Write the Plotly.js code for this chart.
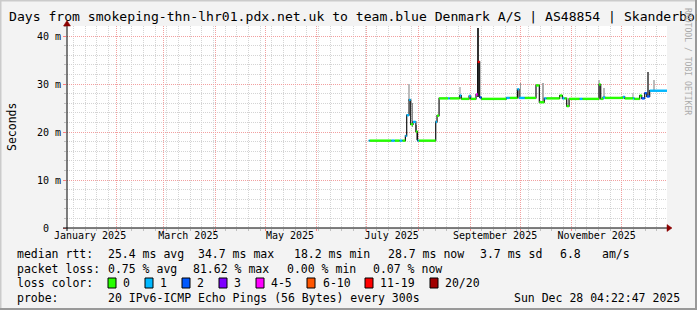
<!DOCTYPE html>
<html><head><meta charset="utf-8">
<script src="https://cdn.plot.ly/plotly-3.0.1.min.js"></script>
<style>html,body{margin:0;padding:0;background:#f3f3f3;}#chart{width:697px;height:310px;}</style>
</head><body><div id="chart"></div>
<script>
// ---------- data ----------
const startTime = '2025-01-02 04:22:47';
const endTime = '2025-12-28 04:22:47';

const medianTimes = [
'2025-07-02 05:00','2025-07-02 19:00','2025-07-15 19:00','2025-07-17 19:00','2025-07-20 19:00','2025-07-22 10:00',
'2025-07-24 05:00','2025-07-25 00:00','2025-07-26 10:00','2025-07-27 10:00','2025-07-28 19:00','2025-07-30 12:00',
'2025-07-31 12:00','2025-08-01 05:00','2025-08-11 10:00','2025-08-12 05:00','2025-08-13 10:00','2025-08-18 19:00',
'2025-08-19 19:00','2025-08-25 19:00','2025-08-26 19:00','2025-08-31 10:00','2025-09-01 10:00','2025-09-04 14:00',
'2025-09-05 14:00','2025-09-06 19:00','2025-09-07 19:00','2025-09-22 19:00','2025-09-24 19:00','2025-09-29 10:00',
'2025-09-30 10:00','2025-10-03 19:00','2025-10-10 14:00','2025-10-12 14:00','2025-10-15 14:00','2025-10-16 19:00',
'2025-10-24 19:00','2025-10-26 10:00','2025-10-27 14:00','2025-10-29 00:00','2025-10-30 10:00','2025-11-05 19:00',
'2025-11-07 10:00','2025-11-17 10:00','2025-11-18 10:00','2025-11-19 19:00','2025-11-21 00:00','2025-12-01 19:00',
'2025-12-02 19:00','2025-12-07 19:00','2025-12-08 14:00','2025-12-11 19:00','2025-12-13 00:00','2025-12-14 19:00',
'2025-12-16 00:00','2025-12-17 19:00'
];
const medianValues = [
18.2,18.2,18.2,18.2,18.2,18.2,
19.2,23.5,26.7,21.6,22.1,20.1,
18.2,18.2,22.1,23.4,27.0,27.0,
27.0,27.6,26.9,27.5,26.9,27.8,
34.6,27.2,26.9,27.1,27.1,28.9,
27.1,27.1,29.7,26.2,27.0,27.0,
27.6,27.0,27.0,25.4,26.9,26.9,
26.9,29.9,26.9,27.2,27.1,27.3,
27.0,27.0,26.9,27.6,27.0,28.1,
27.4,28.6
];
const lossBucket = [
1,0,1,0,1,0,
1,1,1,0,1,0,
1,0,1,0,0,1,
0,1,0,1,0,4,
6,2,0,1,0,1,
1,0,0,0,1,0,
0,1,0,0,0,1,
0,0,0,1,0,1,
0,1,0,0,2,2,
2,1
];

const smokeTimes = ['2025-07-26 12:00','2025-07-28 12:00','2025-07-30 20:00','2025-08-25 19:00','2025-09-05 14:00','2025-10-01 06:00','2025-10-15 00:00','2025-11-17 10:00','2025-11-20 12:00','2025-12-08 00:00','2025-12-16 20:00','2025-12-20 12:00'];
const smokeLow   = [26.5,21.1,18.3,27.0,27.2,27.1,26.3,27.0,27.2,27.0,27.4,28.6];
const smokeHigh  = [30.0,26.0,21.5,29.4,41.6,30.2,30.3,30.8,29.1,28.1,32.4,30.8];
const smokeShade = ['#bbbbbb','#8c8c8c','#8c8c8c','#c8c8c8','#333333','#999999','#aaaaaa','#bbbbbb','#bbbbbb','#c8c8c8','#666666','#bbbbbb'];

const lossLabels = ['0','1','2','3','4-5','6-10','11-19','20/20'];
const lossColors = ['#26ff00','#00b8ff','#0059ff','#7e00ff','#ff00ff','#ff5500','#ff0000','#a10000'];

const monthLabelTimes = ['2025-01-16','2025-03-16','2025-05-16','2025-07-16','2025-09-16','2025-11-16'];
const monthLabels = ['January 2025','March 2025','May 2025','July 2025','September 2025','November 2025'];
const yTickVals = [0,10,20,30,40];
const yTickText = ['0<span style="fill-opacity:0">mm</span>','10 m','20 m','30 m','40 m'];

const titleText = 'Days from smokeping-thn-lhr01.pdx.net.uk to team.blue Denmark A/S | AS48854 | Skanderborg';
const yTitle = 'Seconds';
const rttRow  = ['median rtt:','25.4 ms avg','34.7 ms max','18.2 ms min','28.7 ms now','3.7 ms sd','6.8','am/s'];
const lossRow = ['packet loss:','0.75 % avg','81.62 % max','0.00 % min','0.07 % now'];
const colorRowLabel = 'loss color:';
const probeRow = ['probe:','20 IPv6-ICMP Echo Pings (56 Bytes) every 300s','Sun Dec 28 04:22:47 2025'];
const creditText = 'RRDTOOL / TOBI OETIKER';

// ---------- layout geometry (pixels) ----------
const L=67, R=667, T=26, B=228;
const px = x => (x-L)/(R-L);
const py = y => (B-y)/(B-T);
const FONT = 'DejaVu Sans Mono, monospace';
const DAY = 86400000;

// ---------- traces ----------
const traces = [];
traces.push({
  type:'bar', x:smokeTimes, base:smokeLow,
  y:smokeHigh.map((h,i)=>h-smokeLow[i]),
  width:smokeTimes.map(()=>1.1*DAY),
  marker:{color:smokeShade, line:{width:0}}, hoverinfo:'skip'
});
traces.push({
  type:'scatter', mode:'lines',
  x:medianTimes.concat([endTime]),
  y:medianValues.concat([medianValues[medianValues.length-1]]),
  line:{color:'#111111', width:1.2, shape:'hv'}, hoverinfo:'skip'
});
const segTraces = lossColors.map(c=>({type:'scatter',mode:'lines',x:[],y:[],line:{color:c,width:2.4},hoverinfo:'skip',connectgaps:false}));
for (let i=0;i<medianTimes.length;i++){
  const t1 = i+1<medianTimes.length ? medianTimes[i+1] : endTime;
  const tr = segTraces[lossBucket[i]];
  tr.x.push(medianTimes[i], t1, null);
  tr.y.push(medianValues[i], medianValues[i], null);
}
segTraces.forEach(t=>{ if(t.x.length) traces.push(t); });
traces.push({type:'scatter', mode:'lines', x:[startTime,endTime], y:[null,null], xaxis:'x2', yaxis:'y', hoverinfo:'skip'});

// ---------- shapes ----------
const shapes = [];
const line = (x0,y0,x1,y1,color,w)=>shapes.push({type:'line',xref:'paper',yref:'paper',x0:px(x0),y0:py(y0),x1:px(x1),y1:py(y1),line:{color:color,width:w}});
// frame
line(0.5,0,0.5,310,'#cbcbcb',2);
line(0,0.5,697,0.5,'#cbcbcb',2);
line(696,0,696,310,'#999999',2);
line(0,309,697,309,'#999999',2);
// axes
line(63,228,667,228,'#000000',1);
line(67,231,67,26,'#000000',1);
const path = (pts,color)=>shapes.push({type:'path',xref:'paper',yref:'paper',
  path:'M'+pts.map(p=>px(p[0])+','+py(p[1])).join(' L')+' Z', fillcolor:color, line:{color:color,width:0.5}});
path([[667,224.5],[672,228],[667,231.5]],'#8b0000');
path([[63.5,26],[67,20.5],[70.5,26]],'#8b0000');

// legend swatches
const swatchX = [108,145,182,219,256,307,365,430];
const labelX  = [122,159,196,233,270,322,379,444];
swatchX.forEach((x,i)=>shapes.push({type:'rect',xref:'paper',yref:'paper',x0:px(x),x1:px(x+8),y0:py(288),y1:py(278),fillcolor:lossColors[i],line:{color:'#000',width:1}}));

// ---------- annotations ----------
const annotations = [];
const txt = (text,x,y,size,opts)=>annotations.push(Object.assign({text:text,xref:'paper',yref:'paper',x:px(x),y:py(y),xanchor:'left',yanchor:'middle',showarrow:false,borderpad:0,font:{family:FONT,size:size,color:'#000'}},opts||{}));
txt(titleText, 8, 17, 13.1);
txt(yTitle, 12, 127, 11.5, {xanchor:'center', textangle:-90});
txt(creditText, 688, 61, 8.1, {xanchor:'center', textangle:90, font:{family:FONT,size:8.1,color:'#ababab'}});
const rttX = [16,107,197,293,387,479,559,601];
rttRow.forEach((s,i)=>txt(s, rttX[i], 254, 11.5));
const lossX = [16,107,192,286,372];
lossRow.forEach((s,i)=>txt(s, lossX[i], 268.5, 11.5));
txt(colorRowLabel, 16, 283, 11.5);
lossLabels.forEach((s,i)=>txt(s, labelX[i], 283, 11.5));
txt(probeRow[0], 16, 297.5, 11.5);
txt(probeRow[1], 107, 297.5, 11.5);
txt(probeRow[2], 681, 297.5, 11.5, {xanchor:'right'});

// ---------- layout ----------
const gridMajor = '#f2a0a0', gridMinor = '#d4d4d4';
const layout = {
  width:697, height:310,
  margin:{l:L, r:697-R, t:T, b:310-B, pad:0},
  paper_bgcolor:'#f3f3f3', plot_bgcolor:'#ffffff',
  showlegend:false, barmode:'overlay', bargap:0,
  font:{family:FONT, size:10, color:'#000'},
  xaxis:{type:'date', range:[startTime,endTime], tickmode:'linear', tick0:'2025-01-01', dtick:'M1',
    showticklabels:false, ticks:'outside', ticklen:2, tickcolor:'#ff8080',
    showgrid:true, gridcolor:gridMajor, griddash:'1px,1px', gridwidth:1,
    zeroline:false, showline:false, fixedrange:true,
    minor:{tickmode:'linear', tick0:'2025-01-06', dtick:7*DAY, showgrid:true, gridcolor:gridMinor, griddash:'1px,1px', gridwidth:1, ticks:'outside', ticklen:2, tickcolor:'#c0c0c0'}},
  xaxis2:{type:'date', overlaying:'x', anchor:'y', side:'bottom', range:[startTime,endTime],
    tickmode:'array', tickvals:monthLabelTimes, ticktext:monthLabels, ticks:'', showgrid:false,
    zeroline:false, showline:false, tickfont:{family:FONT,size:10,color:'#000'}, fixedrange:true},
  yaxis:{range:[0,(B-T)/4.8], tickmode:'array', tickvals:yTickVals, ticktext:yTickText,
    ticks:'outside', ticklen:3, tickcolor:'#ff8080',
    showgrid:true, gridcolor:gridMajor, griddash:'1px,1px', gridwidth:1,
    zeroline:false, showline:false, fixedrange:true, tickfont:{family:FONT,size:10,color:'#000'},
    minor:{tickmode:'linear', tick0:0, dtick:2, showgrid:true, gridcolor:gridMinor, griddash:'1px,1px', gridwidth:1, ticks:'outside', ticklen:2, tickcolor:'#c0c0c0'}},
  shapes:shapes, annotations:annotations
};
Plotly.newPlot('chart', traces, layout, {staticPlot:true, displayModeBar:false});
</script>
</body></html>
